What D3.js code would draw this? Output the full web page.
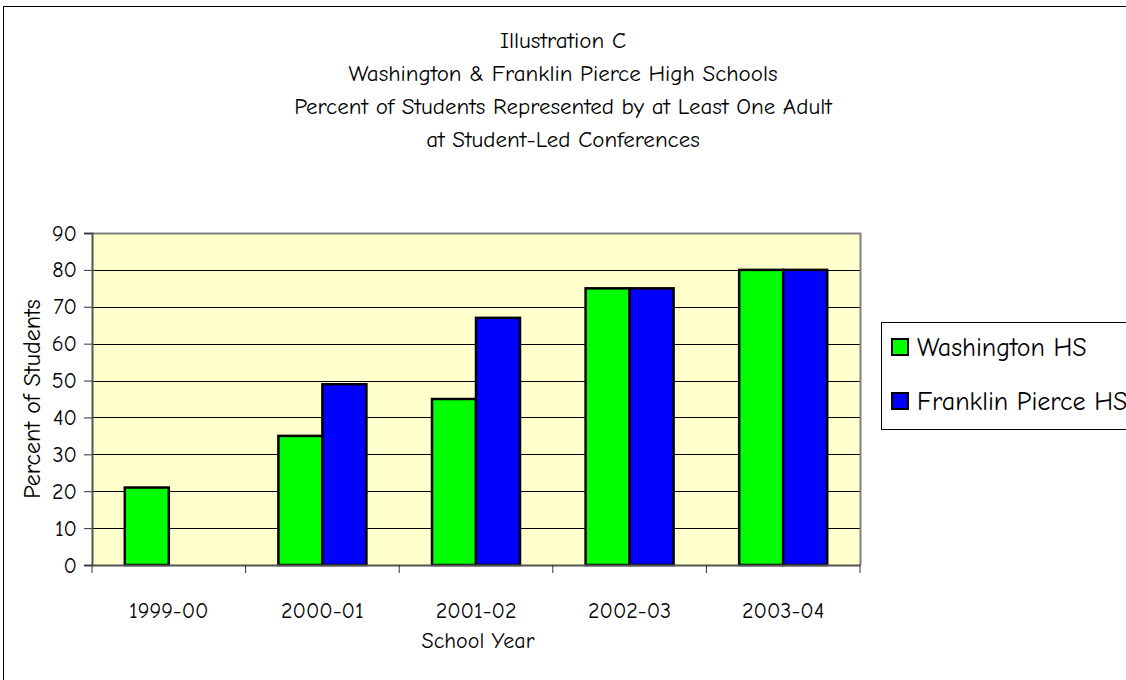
<!DOCTYPE html>
<html>
<head>
<meta charset="utf-8">
<script src="https://cdn.jsdelivr.net/npm/d3@7"></script>
<style>
  body { margin: 0; background: #fff; }
  text { font-family: "Comic Sans MS", "Comic Neue", "DejaVu Sans", sans-serif; fill: #000; }
</style>
</head>
<body>
<div id="chart"></div>
<script>
// data
var years = ["1999-00", "2000-01", "2001-02", "2002-03", "2003-04"];
var seriesNames = ["Washington HS", "Franklin Pierce HS"];
var washington = [21, 35, 45, 75, 80];
var franklin = [null, 49, 67, 75, 80];
var yTicks = [0, 10, 20, 30, 40, 50, 60, 70, 80, 90];
var titleLines = ["Illustration C", "Washington & Franklin Pierce High Schools",
    "Percent of Students Represented by at Least One Adult", "at Student-Led Conferences"];
var colors = ["#00ff00", "#0000ff"];

var width = 1126, height = 680;
var plot = { left: 92, top: 233, right: 860, bottom: 565 };
var fs = "22px";

var svg = d3.select("#chart").append("svg")
    .attr("width", width)
    .attr("height", height);

// outer frame
svg.append("rect")
    .attr("x", 3.5).attr("y", 6.5)
    .attr("width", width + 10).attr("height", height + 10)
    .attr("fill", "#fff").attr("stroke", "#000").attr("stroke-width", 1);

// titles
svg.selectAll(".title")
    .data(titleLines)
    .enter().append("text")
    .attr("class", "title")
    .attr("x", 563)
    .attr("y", function(d, i) { return 48 + i * 33; })
    .attr("text-anchor", "middle")
    .style("font-size", "23px")
    .text(function(d) { return d; });

var x = d3.scaleBand().domain(years).range([plot.left, plot.right]);
var y = d3.scaleLinear().domain([0, 90]).range([plot.bottom, plot.top]);
var barW = 44;
var x1 = d3.scaleBand().domain([0, 1]).range([0, barW * 2]);

// plot background
svg.append("rect")
    .attr("x", plot.left).attr("y", plot.top)
    .attr("width", plot.right - plot.left).attr("height", plot.bottom - plot.top)
    .attr("fill", "#ffffcc");

// gridlines
svg.append("g").selectAll("line")
    .data(yTicks.slice(1, -1))
    .enter().append("line")
    .attr("x1", plot.left).attr("x2", plot.right)
    .attr("y1", function(d) { return Math.round(y(d)) + 0.5; })
    .attr("y2", function(d) { return Math.round(y(d)) + 0.5; })
    .attr("stroke", "#000").attr("stroke-width", 1);

// plot border top/right
svg.append("path")
    .attr("d", "M" + plot.left + "," + (plot.top + 0.5) + "H" + (plot.right + 0.5) + "V" + plot.bottom)
    .attr("fill", "none").attr("stroke", "#808080").attr("stroke-width", 2);

// bars
var series = [washington, franklin];
series.forEach(function(vals, s) {
    svg.append("g").selectAll("rect")
        .data(years.map(function(yr, i) { return { yr: yr, v: vals[i] }; })
            .filter(function(d) { return d.v != null; }))
        .enter().append("rect")
        .attr("x", function(d) { return x(d.yr) + (x.bandwidth() - barW * 2) / 2 + x1(s); })
        .attr("y", function(d) { return y(d.v); })
        .attr("width", barW)
        .attr("height", function(d) { return y(0) - y(d.v); })
        .attr("fill", colors[s])
        .attr("stroke", "#000").attr("stroke-width", 2.5);
});

// y axis
var yAxis = svg.append("g")
    .attr("transform", "translate(" + plot.left + ",0)")
    .call(d3.axisLeft(y).tickValues(yTicks).tickSize(8).tickPadding(7));
yAxis.select(".domain").attr("stroke", "#555").attr("stroke-width", 2);
yAxis.selectAll(".tick line").attr("stroke", "#333");
yAxis.selectAll("text").style("font-size", fs).attr("fill", "#000");

// x axis
var xAxis = svg.append("g")
    .attr("transform", "translate(0," + plot.bottom + ")")
    .call(d3.axisBottom(x).tickSize(0).tickPadding(37));
xAxis.select(".domain").attr("stroke", "#555").attr("stroke-width", 2);
xAxis.selectAll("text").style("font-size", fs).attr("fill", "#000");
// category separators
svg.append("g").selectAll("line")
    .data(d3.range(years.length + 1))
    .enter().append("line")
    .attr("x1", function(d) { return plot.left + d * x.step(); })
    .attr("x2", function(d) { return plot.left + d * x.step(); })
    .attr("y1", plot.bottom).attr("y2", plot.bottom + 8)
    .attr("stroke", "#333");

// axis titles
svg.append("text")
    .attr("x", 478).attr("y", 648)
    .attr("text-anchor", "middle")
    .style("font-size", fs)
    .text("School Year");

svg.append("text")
    .attr("transform", "translate(40,399) rotate(-90)")
    .attr("text-anchor", "middle")
    .style("font-size", "24px")
    .text("Percent of Students");

// legend
var legend = svg.append("g");
legend.append("rect")
    .attr("x", 881.5).attr("y", 322.5)
    .attr("width", 260).attr("height", 107)
    .attr("fill", "#fff").attr("stroke", "#000").attr("stroke-width", 1);
var item = legend.selectAll(".item")
    .data(seriesNames)
    .enter().append("g")
    .attr("class", "item")
    .attr("transform", function(d, i) { return "translate(892," + (339 + i * 54) + ")"; });
item.append("rect")
    .attr("width", 16).attr("height", 16)
    .attr("fill", function(d, i) { return colors[i]; })
    .attr("stroke", "#000").attr("stroke-width", 2);
item.append("text")
    .attr("x", 25).attr("y", 17)
    .style("font-size", "26px")
    .text(function(d) { return d; });
</script>
</body>
</html>
